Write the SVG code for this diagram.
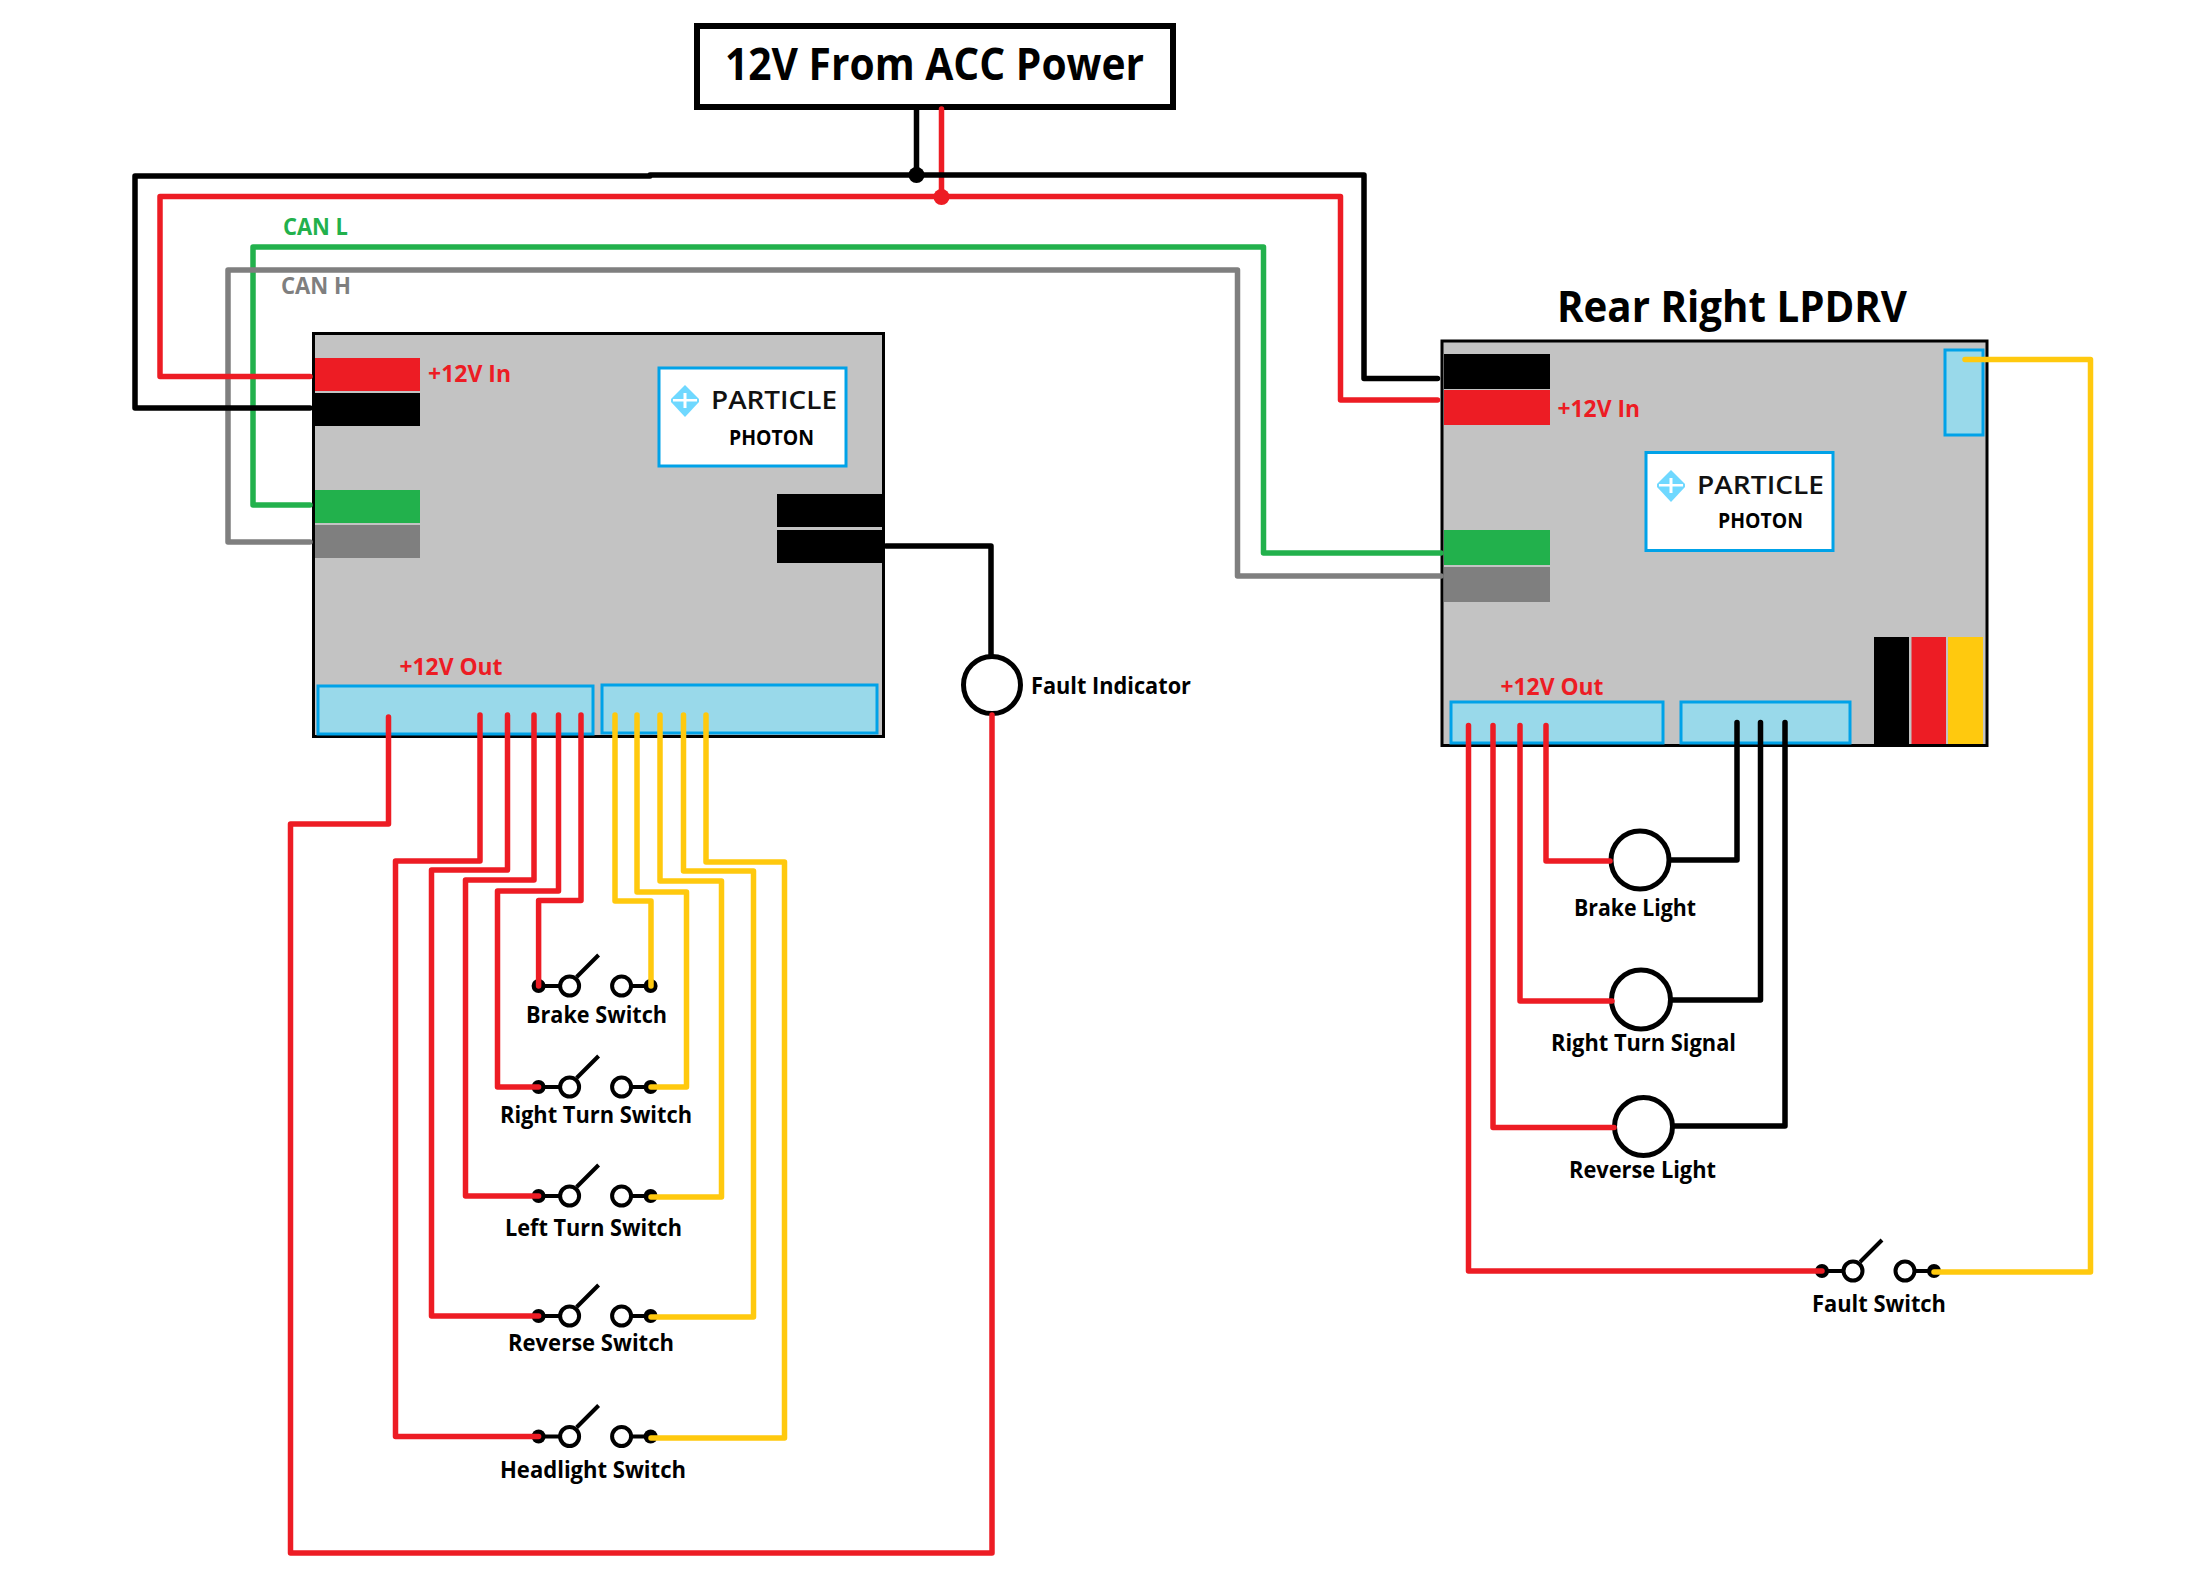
<svg xmlns="http://www.w3.org/2000/svg" xmlns:xlink="http://www.w3.org/1999/xlink" width="2197" height="1592" viewBox="0 0 2197 1592">
<style>
text{font-family:"Open Sans","Noto Sans","Liberation Sans",sans-serif;font-weight:700;fill:#000}
.lab{font-size:23px}
.redt{font-size:23px;fill:#ed1c24;font-weight:700}
.pa{font-size:25px;font-weight:600;fill:#111}
.ph{font-size:21px}
.board{fill:#c3c3c3;stroke:#000;stroke-width:3}
.pan{fill:#99d9ea;stroke:#00a2e8;stroke-width:3}
.pbox{fill:#fff;stroke:#00a2e8;stroke-width:3}
.lamp{fill:#fff;stroke:#000;stroke-width:5}
.w{fill:none;stroke-width:5.5;stroke-linejoin:round;stroke-linecap:round}
.k{stroke:#000}.r{stroke:#ed1c24}.y{stroke:#ffc90e}.g{stroke:#22b14c}.a{stroke:#7f7f7f}
.s{fill:#fff;stroke:#000;stroke-width:4}
.sl{fill:none;stroke:#000;stroke-width:4}
</style>
<defs>
<g id="sw">
<path class="sl" d="M0 0H22M92 0H112M38 -9L60 -31"/>
<circle cx="0" cy="0" r="7"/>
<circle cx="112" cy="0" r="7"/>
<circle class="s" cx="31" cy="0" r="9.5"/>
<circle class="s" cx="83" cy="0" r="9.5"/>
</g>
<g id="logo">
<polygon points="14,0 28,14 28,17 14,32 0,17 0,14" fill="#6fd8ff"/>
<rect x="2" y="14" width="24" height="2.500" fill="#fff"/>
<rect x="12.500" y="8" width="3" height="15" fill="#fff"/>
</g>
</defs>
<rect width="2197" height="1592" fill="#fff"/>

<g id="acc-power">
<rect x="697" y="26" width="476" height="81" fill="#fff" stroke="#000" stroke-width="6"/>
<text x="725" y="80" font-size="44" textLength="419" lengthAdjust="spacingAndGlyphs">12V From ACC Power</text>
</g>

<g id="left-board">
<rect class="board" x="313.500" y="333.500" width="570" height="403"/>
<rect x="315" y="358" width="105" height="33" fill="#ed1c24"/>
<rect x="315" y="393" width="105" height="33" fill="#000"/>
<rect x="315" y="490" width="105" height="33" fill="#22b14c"/>
<rect x="315" y="525" width="105" height="33" fill="#7f7f7f"/>
<rect x="777" y="494" width="105" height="33" fill="#000"/>
<rect x="777" y="530" width="105" height="33" fill="#000"/>
<rect class="pan" x="318" y="686" width="275" height="48"/>
<rect class="pan" x="602" y="685" width="275" height="48"/>
<text class="redt" x="428" y="382" textLength="83" lengthAdjust="spacingAndGlyphs">+12V In</text>
<text class="redt" x="399.500" y="675" textLength="103" lengthAdjust="spacingAndGlyphs">+12V Out</text>
<rect class="pbox" x="659" y="368" width="187" height="98"/>
<use href="#logo" x="671" y="385"/>
<text class="pa" x="711" y="409" textLength="126" lengthAdjust="spacingAndGlyphs">PARTICLE</text>
<text class="ph" x="729" y="445" textLength="85" lengthAdjust="spacingAndGlyphs">PHOTON</text>
</g>

<g id="can-labels">
<text x="283" y="235" font-size="23" style="fill:#22b14c" textLength="65" lengthAdjust="spacingAndGlyphs">CAN L</text>
<text x="281" y="294" font-size="23" style="fill:#7f7f7f" textLength="70" lengthAdjust="spacingAndGlyphs">CAN H</text>
</g>

<g id="right-board">
<text x="1557" y="322" font-size="43" textLength="350" lengthAdjust="spacingAndGlyphs">Rear Right LPDRV</text>
<rect class="board" x="1442" y="341" width="545" height="404.500"/>
<rect x="1444" y="354" width="106" height="35" fill="#000"/>
<rect x="1444" y="390" width="106" height="35" fill="#ed1c24"/>
<rect x="1444" y="530" width="106" height="35" fill="#22b14c"/>
<rect x="1444" y="567" width="106" height="35" fill="#7f7f7f"/>
<rect class="pan" x="1945" y="350" width="38" height="85"/>
<rect class="pan" x="1451" y="702" width="212" height="41"/>
<rect class="pan" x="1681" y="702" width="169" height="41"/>
<rect x="1874" y="637" width="35" height="107" fill="#000"/>
<rect x="1911.500" y="637" width="34.500" height="107" fill="#ed1c24"/>
<rect x="1948" y="637" width="35" height="107" fill="#ffc90e"/>
<text class="redt" x="1557.500" y="417" textLength="82.500" lengthAdjust="spacingAndGlyphs">+12V In</text>
<text class="redt" x="1500.500" y="695" textLength="103" lengthAdjust="spacingAndGlyphs">+12V Out</text>
<rect class="pbox" x="1646" y="452.500" width="187" height="98"/>
<use href="#logo" x="1657" y="470"/>
<text class="pa" x="1697" y="494" textLength="127" lengthAdjust="spacingAndGlyphs">PARTICLE</text>
<text class="ph" x="1718" y="528" textLength="85" lengthAdjust="spacingAndGlyphs">PHOTON</text>
</g>

<g id="fault-indicator">
<circle class="lamp" cx="992" cy="685" r="28.500"/>
<text class="lab" x="1031" y="694" textLength="160" lengthAdjust="spacingAndGlyphs">Fault Indicator</text>
</g>

<g id="brake-switch"><use href="#sw" x="538.600" y="986"/><text class="lab" x="526" y="1023" textLength="141" lengthAdjust="spacingAndGlyphs">Brake Switch</text></g>
<g id="right-turn-switch"><use href="#sw" x="538.600" y="1087"/><text class="lab" x="500" y="1123" textLength="192" lengthAdjust="spacingAndGlyphs">Right Turn Switch</text></g>
<g id="left-turn-switch"><use href="#sw" x="538.600" y="1196"/><text class="lab" x="505" y="1236" textLength="177" lengthAdjust="spacingAndGlyphs">Left Turn Switch</text></g>
<g id="reverse-switch"><use href="#sw" x="538.600" y="1316"/><text class="lab" x="508" y="1351" textLength="166" lengthAdjust="spacingAndGlyphs">Reverse Switch</text></g>
<g id="headlight-switch"><use href="#sw" x="538.600" y="1436.500"/><text class="lab" x="500" y="1478" textLength="186" lengthAdjust="spacingAndGlyphs">Headlight Switch</text></g>
<g id="fault-switch"><use href="#sw" x="1822" y="1271"/><text class="lab" x="1812" y="1312" textLength="134" lengthAdjust="spacingAndGlyphs">Fault Switch</text></g>

<g id="brake-light"><circle class="lamp" cx="1640" cy="860" r="29"/><text class="lab" x="1574" y="916" textLength="122" lengthAdjust="spacingAndGlyphs">Brake Light</text></g>
<g id="right-turn-signal"><circle class="lamp" cx="1641" cy="999.500" r="29.500"/><text class="lab" x="1551" y="1051" textLength="185" lengthAdjust="spacingAndGlyphs">Right Turn Signal</text></g>
<g id="reverse-light"><circle class="lamp" cx="1643.500" cy="1126.500" r="29"/><text class="lab" x="1569" y="1178" textLength="147" lengthAdjust="spacingAndGlyphs">Reverse Light</text></g>

<g id="connectors">
<circle cx="916.500" cy="175" r="8" fill="#000"/>
<circle cx="941.500" cy="197" r="8" fill="#ed1c24"/>
<path class="w g" d="M310 505H253V247H1263.500V553H1441"/>
<path class="w a" d="M310 542H228V270H1237.500V576H1441"/>
<path class="w r" d="M941.500 109V197M310 376.500H160V196.500H1340.500V400H1437.500"/>
<path class="w k" d="M916.500 109V175M310 408H135V176H650V175H1364V378.500H1437.500"/>
<path class="w k" d="M886 546H991V654"/>
<path class="w r" d="M992 715V1553H290.500V824H388.500V717"/>
<path class="w r" d="M480 715V861H395.500V1436.500H538.600"/>
<path class="w r" d="M507.500 715V870H431.500V1316H538.600"/>
<path class="w r" d="M534 715V880H465.500V1196H538.600"/>
<path class="w r" d="M558.500 715V891H497.500V1087H538.600"/>
<path class="w r" d="M581 715V900.500H538.600V986"/>
<path class="w y" d="M615 715V901H651V986"/>
<path class="w y" d="M637 715V892H686.500V1087H651"/>
<path class="w y" d="M660 715V881H721.500V1197H651"/>
<path class="w y" d="M683.500 715V871H753.500V1317H651"/>
<path class="w y" d="M706 715V862H784.500V1438H651"/>
<path class="w r" d="M1546 725.500V861H1610"/>
<path class="w r" d="M1520 725.500V1001H1612"/>
<path class="w r" d="M1493 725.500V1127.500H1614"/>
<path class="w r" d="M1468.500 725.500V1271H1822"/>
<path class="w k" d="M1737 722.500V860H1671"/>
<path class="w k" d="M1760.500 722.500V1000H1672"/>
<path class="w k" d="M1785 722.500V1126H1674"/>
<path class="w y" d="M1965 359.500H2090.500V1272H1934"/>
</g>
</svg>
